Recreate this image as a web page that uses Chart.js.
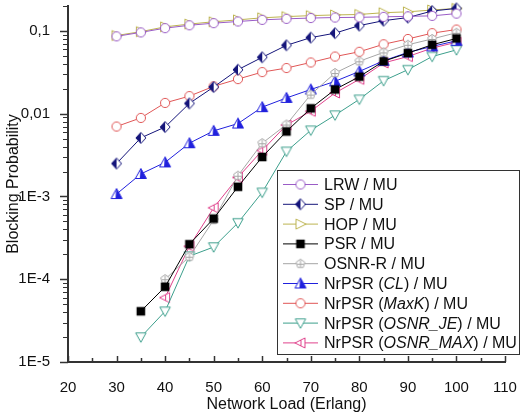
<!DOCTYPE html>
<html>
<head>
<meta charset="utf-8">
<script src="https://cdn.jsdelivr.net/npm/chart.js@4.4.1/dist/chart.umd.min.js"></script>
<style>
  html, body { margin: 0; padding: 0; background: #fff; }
  #wrap { width: 531px; height: 415px; }
</style>
</head>
<body>
<div id="wrap"><canvas id="chart" width="531" height="415"></canvas></div>
<script>
// Network load (Erlang)
var loads = [30, 35, 40, 45, 50, 55, 60, 65, 70, 75, 80, 85, 90, 95, 100];

// Blocking probability per scheme
var lrw      = [0.086, 0.096, 0.108, 0.117, 0.124, 0.130, 0.136, 0.140, 0.143, 0.145, 0.146, 0.148, 0.150, 0.152, 0.162];
var sp       = [0.0025, 0.0051, 0.0069, 0.0133, 0.021, 0.034, 0.048, 0.067, 0.083, 0.094, 0.116, 0.133, 0.145, 0.174, 0.187];
var hop      = [0.088, 0.098, 0.112, 0.121, 0.129, 0.136, 0.144, 0.149, 0.153, 0.156, 0.158, 0.166, 0.170, 0.179, 0.187];
var psr      = [null, 4.1e-5, 8.1e-5, 2.65e-4, 5.4e-4, 1.31e-3, 3.0e-3, 6.1e-3, 0.0116, 0.0196, 0.028, 0.043, 0.054, 0.068, 0.081];
var osnrR    = [null, null, 1.0e-4, 1.87e-4, 5.2e-4, 1.78e-3, 4.4e-3, 7.4e-3, 0.017, 0.031, 0.043, 0.055, 0.068, 0.080, 0.095];
var nrCL     = [0.00107, 0.00187, 0.00258, 0.0044, 0.0062, 0.0076, 0.012, 0.0155, 0.0196, 0.0246, 0.0324, 0.0436, 0.055, 0.065, 0.076];
var nrMaxK   = [0.0070, 0.0089, 0.0135, 0.0163, 0.0214, 0.0262, 0.0318, 0.0356, 0.0416, 0.049, 0.056, 0.069, 0.080, 0.094, 0.104];
var nrJE     = [null, 2.0e-5, 4.1e-5, 1.9e-4, 2.45e-4, 4.8e-4, 1.12e-3, 3.5e-3, 6.3e-3, 9.6e-3, 0.0149, 0.025, 0.034, 0.049, 0.059];
var nrMax    = [null, null, 6.0e-5, 2.5e-4, 7.3e-4, 1.7e-3, 3.6e-3, 7.3e-3, 0.0107, 0.0178, 0.026, 0.041, 0.049, 0.062, 0.073];

// Axis ticks
var xTicks = [20, 30, 40, 50, 60, 70, 80, 90, 100, 110];
var yTicks = [1e-5, 1e-4, 1e-3, 1e-2, 1e-1];
var yTickLabels = ["1E-5", "1E-4", "1E-3", "0,01", "0,1"];

var FONT = "'Liberation Sans', Arial, sans-serif";

// Marker images drawn on small canvases
function makeMarker(shape, stroke, fill) {
    var s = 14, c = document.createElement('canvas');
    c.width = s; c.height = s;
    var g = c.getContext('2d');
    var m = s / 2, r = 4.6;
    g.lineWidth = 1;
    g.strokeStyle = stroke;
    function path(pts) {
        g.beginPath();
        g.moveTo(pts[0][0], pts[0][1]);
        for (var i = 1; i < pts.length; i++) g.lineTo(pts[i][0], pts[i][1]);
        g.closePath();
    }
    if (shape === 'circle') {
        g.beginPath(); g.arc(m, m, r, 0, Math.PI * 2);
        g.fillStyle = '#fff'; g.fill(); g.stroke();
    } else if (shape === 'square') {
        g.fillStyle = fill; g.fillRect(m - 4.3, m - 4.3, 8.6, 8.6);
    } else if (shape === 'diamondHalf') {
        var d = [[m, m - 5.5], [m + 5, m], [m, m + 5.5], [m - 5, m]];
        path(d); g.fillStyle = '#fff'; g.fill();
        path([[m, m - 5.5], [m, m + 5.5], [m - 5, m]]); g.fillStyle = fill; g.fill();
        path(d); g.stroke();
    } else if (shape === 'triRight') {
        path([[m - 4.5, m - 5], [m + 5.5, m], [m - 4.5, m + 5]]);
        g.fillStyle = '#fff'; g.fill(); g.stroke();
    } else if (shape === 'triLeft') {
        path([[m + 4.5, m - 5], [m - 5.5, m], [m + 4.5, m + 5]]);
        g.fillStyle = '#fff'; g.fill(); g.stroke();
        g.beginPath(); g.moveTo(m + 0.5, m - 3); g.lineTo(m + 0.5, m + 3); g.stroke();
    } else if (shape === 'triDown') {
        path([[m - 5.2, m - 4.2], [m + 5.2, m - 4.2], [m, m + 5.2]]);
        g.fillStyle = '#fff'; g.fill(); g.stroke();
    } else if (shape === 'triUpHalf') {
        var t = [[m, m - 5.5], [m + 5.5, m + 4.5], [m - 5.5, m + 4.5]];
        path(t); g.fillStyle = '#fff'; g.fill();
        path([[m, m - 5.5], [m + 5.5, m + 4.5], [m - 1, m + 4.5], [m - 0.5, m - 4.5]]);
        g.fillStyle = fill; g.fill();
        path(t); g.stroke();
    } else if (shape === 'pentagon') {
        var p = [];
        for (var k = 0; k < 5; k++) {
            var a = -Math.PI / 2 + k * 2 * Math.PI / 5;
            p.push([m + r * Math.cos(a), m + r * Math.sin(a)]);
        }
        path(p); g.fillStyle = '#fff'; g.fill(); g.stroke();
        g.beginPath(); g.moveTo(m - 3, m + 0.5); g.lineTo(m + 3, m + 0.5);
        g.moveTo(m, m - 3.5); g.lineTo(m, m + 3.5); g.stroke();
    }
    return c;
}

var series = [
    { label: [["LRW / MU", false]], data: lrw, color: '#9a5cc6', shape: 'circle' },
    { label: [["SP / MU", false]], data: sp, color: '#14147a', shape: 'diamondHalf' },
    { label: [["HOP / MU", false]], data: hop, color: '#bdb451', shape: 'triRight' },
    { label: [["PSR / MU", false]], data: psr, color: '#000000', shape: 'square' },
    { label: [["OSNR-R / MU", false]], data: osnrR, color: '#a6a6a6', shape: 'pentagon' },
    { label: [["NrPSR (", false], ["CL", true], [") / MU", false]], data: nrCL, color: '#2020dd', shape: 'triUpHalf' },
    { label: [["NrPSR (", false], ["MaxK", true], [") / MU", false]], data: nrMaxK, color: '#e05656', shape: 'circle' },
    { label: [["NrPSR (", false], ["OSNR_JE", true], [") / MU", false]], data: nrJE, color: '#3c9f8c', shape: 'triDown' },
    { label: [["NrPSR (", false], ["OSNR_MAX", true], [") / MU", false]], data: nrMax, color: '#e0428c', shape: 'triLeft' }
];

series.forEach(function (s) {
    s.marker = makeMarker(s.shape, s.color, s.color);
});

// Minor ticks, drawn through the scales
var ticksPlugin = {
    id: 'axisTicks',
    afterDraw: function (chart) {
        var ctx = chart.ctx, xs = chart.scales.x, ys = chart.scales.y;
        ctx.save();
        ctx.strokeStyle = '#333';
        ctx.lineWidth = 1.5;
        var bottom = ys.bottom, left = xs.left;
        for (var v = 20; v <= 110; v += 5) {
            var px = Math.round(xs.getPixelForValue(v)) + 0.5;
            var len = (v % 10 === 0) ? 6 : 4;
            ctx.beginPath(); ctx.moveTo(px, bottom); ctx.lineTo(px, bottom - len); ctx.stroke();
        }
        ctx.lineWidth = 1;
        for (var d = -5; d <= -1; d++) {
            for (var k = 1; k <= 9; k++) {
                var val = k * Math.pow(10, d);
                if (val > 0.2) break;
                var py = Math.round(ys.getPixelForValue(val)) + 0.5;
                var l = (k === 1) ? 8 : 5;
                ctx.lineWidth = (k === 1) ? 1.5 : 1;
                ctx.beginPath(); ctx.moveTo(left, py); ctx.lineTo(left - l, py); ctx.stroke();
            }
        }
        ctx.restore();
    }
};

// Boxed legend with italic parts
var legendPlugin = {
    id: 'boxLegend',
    afterDraw: function (chart) {
        var ctx = chart.ctx;
        var bx = 277, by = 170, bw = 242, bh = 184;
        ctx.save();
        ctx.fillStyle = '#fff';
        ctx.fillRect(bx, by, bw, bh);
        ctx.strokeStyle = '#333';
        ctx.lineWidth = 1;
        ctx.strokeRect(bx + 0.5, by + 0.5, bw, bh);
        ctx.textBaseline = 'middle';
        series.forEach(function (s, i) {
            var y = 184.5 + i * 19.8;
            ctx.strokeStyle = s.color;
            ctx.beginPath(); ctx.moveTo(283, y); ctx.lineTo(318, y); ctx.stroke();
            ctx.drawImage(s.marker, 300.5 - 7, y - 7);
            var x = 324;
            ctx.fillStyle = '#111';
            s.label.forEach(function (part) {
                ctx.font = (part[1] ? 'italic ' : '') + '16px ' + FONT;
                ctx.fillText(part[0], x, y + 1);
                x += ctx.measureText(part[0]).width;
            });
        });
        ctx.restore();
    }
};

new Chart(document.getElementById('chart'), {
    type: 'line',
    data: {
        labels: loads,
        datasets: series.map(function (s) {
            return {
                label: s.label.map(function (p) { return p[0]; }).join(''),
                data: s.data.map(function (v, i) { return { x: loads[i], y: v }; }).filter(function (p) { return p.y !== null; }),
                borderColor: s.color,
                backgroundColor: s.color,
                borderWidth: 1,
                pointStyle: s.marker,
                pointRadius: 5,
                tension: 0,
                clip: false
            };
        })
    },
    options: {
        responsive: false,
        animation: false,
        events: [],
        layout: { padding: { top: 4, right: 26, left: 0, bottom: 0 } },
        plugins: { legend: { display: false }, tooltip: { enabled: false } },
        scales: {
            x: {
                type: 'linear',
                min: 20, max: 110,
                afterBuildTicks: function (scale) {
                    scale.ticks = xTicks.map(function (v) { return { value: v }; });
                },
                afterFit: function (scale) { scale.height = 53; scale.paddingLeft = 0; scale.paddingRight = 0; },
                grid: { display: false },
                border: { display: true, color: '#333', width: 2 },
                ticks: { color: '#111', font: { family: FONT, size: 15 }, padding: 9, maxRotation: 0 },
                title: { display: true, text: 'Network Load (Erlang)', color: '#111', font: { family: FONT, size: 16 }, padding: { top: 4, bottom: 1 } }
            },
            y: {
                type: 'logarithmic',
                min: 1e-5, max: 0.2,
                afterBuildTicks: function (scale) {
                    scale.ticks = yTicks.map(function (v) { return { value: v }; });
                },
                afterFit: function (scale) { scale.width = 68; scale.paddingTop = 0; scale.paddingBottom = 0; },
                grid: { display: false },
                border: { display: true, color: '#333', width: 2 },
                ticks: {
                    color: '#111', font: { family: FONT, size: 15 }, padding: 10,
                    callback: function (v) {
                        var i = yTicks.indexOf(v);
                        return i >= 0 ? yTickLabels[i] : '';
                    }
                },
                title: { display: true, text: 'Blocking Probability', color: '#111', font: { family: FONT, size: 16 }, padding: { bottom: 2 } }
            }
        }
    },
    plugins: [ticksPlugin, legendPlugin]
});
</script>
</body>
</html>
